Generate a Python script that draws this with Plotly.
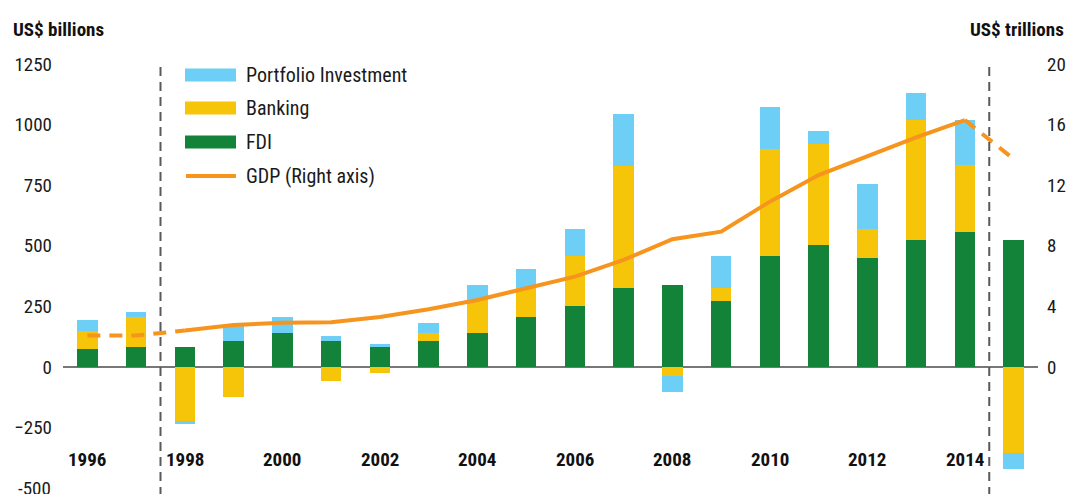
import plotly.graph_objects as go

years = list(range(1996, 2016))

# US$ billions
fdi = [74, 82, 82, 107, 140, 107, 84, 107, 140, 206, 252, 326, 338, 272, 458, 503, 450, 524, 557, 524]
banking = [74, 124, -226, -124, 0, -58, -25, 32, 140, 120, 206, 505, -37, 54, 440, 418, 118, 496, 275, -356]
portfolio = [46, 21, -8, 66, 66, 21, 11, 44, 57, 77, 110, 211, -66, 132, 176, 54, 187, 109, 187, -65]

# US$ trillions (right axis)
gdp = [2.07, 2.07, 2.4, 2.77, 2.92, 2.95, 3.3, 3.8, 4.42, 5.19, 5.96, 7.06,
       8.43, 8.93, 10.91, 12.67, 13.93, 15.16, 16.3, 13.73]

year_labels = [str(y) for y in range(1996, 2015, 2)]
left_ticks = [-500, -250, 0, 250, 500, 750, 1000, 1250]
right_ticks = [0, 4, 8, 12, 16, 20]
split_years = [1997.5, 2014.5]

FONT = "Roboto Condensed, sans-serif"
TXT = "#1a1a1a"
GREEN = "#138339"
YELLOW = "#F6C50A"
BLUE = "#6DCFF6"
ORANGE = "#F7941D"

W, H = 1070, 494
PLOT_L, PLOT_R, PLOT_T, PLOT_B = 63, 1038, 64, 489


def px(xp):
    return (xp - PLOT_L) / (PLOT_R - PLOT_L)


def py(yp):
    return (PLOT_B - yp) / (PLOT_B - PLOT_T)


fig = go.Figure()

bar_specs = [
    ("FDI", fdi, GREEN),
    ("Banking", banking, YELLOW),
    ("Portfolio Investment", portfolio, BLUE),
]
for name, vals, color in bar_specs:
    fig.add_trace(
        go.Bar(
            x=years,
            y=vals,
            name=name,
            width=0.42,
            marker=dict(color=color, line=dict(width=0)),
            showlegend=False,
        )
    )

# GDP: solid for 1998-2014, dashed outside
solid_x = years[2:19]
solid_y = gdp[2:19]
dash_x = years[0:3] + [None] + years[18:20]
dash_y = gdp[0:3] + [None] + gdp[18:20]

fig.add_trace(
    go.Scatter(
        x=solid_x,
        y=solid_y,
        mode="lines",
        name="GDP (Right axis)",
        line=dict(color=ORANGE, width=4),
        yaxis="y2",
        showlegend=False,
    )
)
fig.add_trace(
    go.Scatter(
        x=dash_x,
        y=dash_y,
        mode="lines",
        line=dict(color=ORANGE, width=4, dash="13px,9px"),
        yaxis="y2",
        showlegend=False,
        connectgaps=False,
    )
)

for xv in split_years:
    fig.add_shape(
        type="line",
        xref="x",
        yref="paper",
        x0=xv,
        x1=xv,
        y0=py(496),
        y1=py(62),
        line=dict(color="#5a5a5a", width=2, dash="9px,6px"),
        layer="above",
    )

# legend drawn by hand so the swatches are wide bars like the original
legend_items = [
    ("Portfolio Investment", BLUE, 75),
    ("Banking", YELLOW, 108),
    ("FDI", GREEN, 142),
    ("GDP (Right axis)", ORANGE, 176),
]
for label, color, yc in legend_items:
    if label.startswith("GDP"):
        fig.add_shape(
            type="line", xref="paper", yref="paper",
            x0=px(186), x1=px(236), y0=py(yc), y1=py(yc),
            line=dict(color=color, width=4),
        )
    else:
        fig.add_shape(
            type="rect", xref="paper", yref="paper",
            x0=px(185), x1=px(236), y0=py(yc + 6.5), y1=py(yc - 6.5),
            fillcolor=color, line=dict(width=0),
        )
    fig.add_annotation(
        x=px(244), y=py(yc), xref="paper", yref="paper",
        xanchor="left", yanchor="middle", text=label, showarrow=False,
        font=dict(family=FONT, size=20, color=TXT),
    )

for lab in year_labels:
    fig.add_annotation(
        x=int(lab),
        y=-384,
        xref="x",
        yref="y",
        text=f"<b>{lab}</b>",
        showarrow=False,
        font=dict(family=FONT, size=19, color="#111"),
    )

# plotly drops the bottom tick label because it runs off the page, so add it by hand
fig.add_annotation(
    x=px(53), y=left_ticks[0], xref="paper", yref="y", xanchor="right", yanchor="middle",
    text=str(left_ticks[0]), showarrow=False,
    font=dict(family=FONT, size=19, color=TXT),
)

fig.add_annotation(
    x=px(11), y=py(30), xref="paper", yref="paper", xanchor="left", yanchor="middle",
    text="<b>US$ billions</b>", showarrow=False,
    font=dict(family=FONT, size=19, color="#111"),
)
fig.add_annotation(
    x=px(1066), y=py(30), xref="paper", yref="paper", xanchor="right", yanchor="middle",
    text="<b>US$ trillions</b>", showarrow=False,
    font=dict(family=FONT, size=19, color="#111"),
)

fig.update_layout(
    width=W,
    height=H,
    margin=dict(l=PLOT_L, r=W - PLOT_R, t=PLOT_T, b=H - PLOT_B),
    paper_bgcolor="white",
    plot_bgcolor="white",
    barmode="relative",
    bargap=0,
    font=dict(family=FONT, size=19, color=TXT),
    showlegend=False,
    xaxis=dict(
        range=[1995.5, 2015.5],
        showticklabels=False,
        showgrid=False,
        zeroline=False,
        showline=False,
        ticks="",
    ),
    yaxis=dict(
        range=[-504, 1250],
        tickvals=left_ticks[1:],
        showgrid=False,
        zeroline=True,
        zerolinecolor="#777",
        zerolinewidth=2,
        ticks="",
        ticklabelstandoff=10,
        tickfont=dict(family=FONT, size=19, color=TXT),
    ),
    yaxis2=dict(
        overlaying="y",
        side="right",
        range=[-8.064, 20],
        tickvals=right_ticks,
        showgrid=False,
        zeroline=False,
        ticks="",
        ticklabelstandoff=8,
        tickfont=dict(family=FONT, size=19, color=TXT),
    ),
)

# drop the default 8px page margin so the figure fills the window exactly
fig.write_html(
    "out.html",
    config={"displayModeBar": False},
    post_script="document.body.style.margin='0';document.body.style.overflow='hidden';",
)
